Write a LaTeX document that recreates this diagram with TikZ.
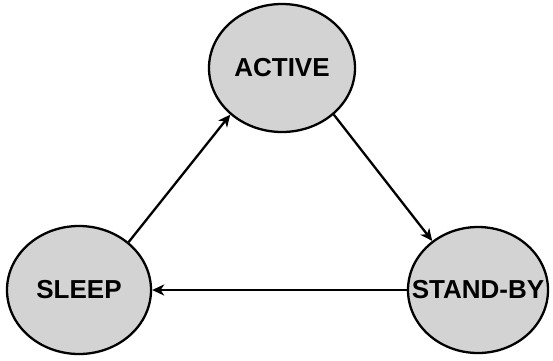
\documentclass[tikz,border=0pt]{standalone}
\usepackage{fontspec}
\setmainfont{Liberation Sans}
\usetikzlibrary{shapes.geometric,arrows.meta}
\definecolor{stategray}{HTML}{D3D3D3}
\begin{document}
\begin{tikzpicture}[x=1pt,y=-1pt,
  state/.style={ellipse,draw=black,line width=2.3pt,fill=stategray,minimum width=146pt,minimum height=128pt,inner sep=0pt},
  statetext/.style={font=\bfseries\fontsize{26}{30}\selectfont},
  conn/.style={line width=2.3pt,-{Stealth[length=12pt,width=11pt,inset=3.5pt]}}]
\useasboundingbox (0,0) rectangle (553,360);
\node[state,label={[statetext]center:ACTIVE}] (active) at (282,68) {};
\node[state,minimum width=144pt,minimum height=128pt,label={[statetext]center:SLEEP}] (sleep) at (79,290) {};
\node[state,minimum width=140pt,minimum height=126pt,label={[statetext]center:STAND-BY}] (standby) at (478,290) {};
\draw[conn] (sleep.44) -- (active.222);
\draw[conn] (active.318) -- (standby.133);
\draw[conn] (standby.west) -- (sleep.east);
\end{tikzpicture}
\end{document}
